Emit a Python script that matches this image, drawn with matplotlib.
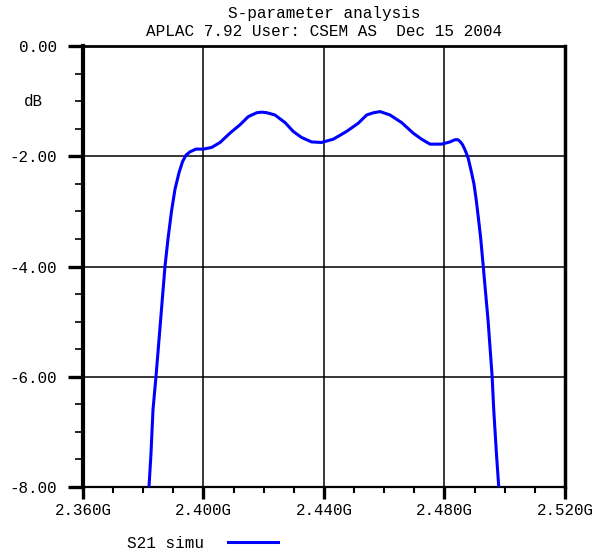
import matplotlib.pyplot as plt
from matplotlib.ticker import MultipleLocator, FixedLocator

# S21 simulation, frequency in GHz, level in dB
freq = [2.38191, 2.38257, 2.38324, 2.38423, 2.38573, 2.38722, 2.38822, 2.38938,
        2.39054, 2.39187, 2.39303, 2.39419, 2.39552, 2.39751, 2.4000, 2.4027,
        2.4055, 2.4088, 2.4121, 2.4149, 2.4177, 2.4193, 2.4210, 2.4237, 2.4271,
        2.4298, 2.4326, 2.4359, 2.4392, 2.4431, 2.4475, 2.4514, 2.4542, 2.4565,
        2.4586, 2.4619, 2.4658, 2.4696, 2.4724, 2.4752, 2.4791, 2.4818, 2.4835,
        2.4845, 2.4853, 2.4860, 2.4867, 2.4873, 2.48790, 2.48880, 2.48979,
        2.49056, 2.49122, 2.49205, 2.49288, 2.49451, 2.49583, 2.49636, 2.49726,
        2.49802]
s21 = [-8.00, -7.40, -6.60, -6.00, -5.00, -4.00, -3.50, -3.00,
       -2.60, -2.30, -2.10, -1.98, -1.92, -1.87, -1.87, -1.84,
       -1.75, -1.58, -1.43, -1.28, -1.21, -1.20, -1.21, -1.25, -1.39,
       -1.55, -1.66, -1.74, -1.75, -1.69, -1.55, -1.40, -1.25, -1.21,
       -1.19, -1.25, -1.39, -1.58, -1.69, -1.78, -1.78, -1.74, -1.70,
       -1.70, -1.74, -1.79, -1.87, -1.95, -2.04, -2.25, -2.50,
       -2.80, -3.10, -3.50, -4.00, -5.00, -6.00, -6.60, -7.40,
       -8.00]

x_major = [2.36, 2.40, 2.44, 2.48, 2.52]
x_labels = ["2.360G", "2.400G", "2.440G", "2.480G", "2.520G"]
y_major = [0, -2, -4, -6, -8]
y_labels = ["0.00", "-2.00", "-4.00", "-6.00", "-8.00"]

font = "Liberation Mono"
plt.rcParams['font.family'] = font
fs = 11.4

fig = plt.figure(figsize=(5.94, 5.49), dpi=100, facecolor="white")
ax = fig.add_axes([0.1397, 0.1129, 0.8114, 0.8033])

ax.plot(freq, s21, color="#0000ff", linewidth=2.2, label="S21 simu", zorder=3)

ax.set_xlim(2.36, 2.52)
ax.set_ylim(-8, 0)

ax.xaxis.set_major_locator(FixedLocator(x_major))
ax.set_xticklabels(x_labels)
ax.xaxis.set_minor_locator(MultipleLocator(0.01))
ax.yaxis.set_major_locator(FixedLocator(y_major))
ax.set_yticklabels(y_labels)
ax.yaxis.set_minor_locator(MultipleLocator(0.5))

ax.tick_params(axis='both', which='both', direction='out', color='black',
               labelsize=fs)
ax.tick_params(axis='x', which='major', length=8.6, width=2.4, pad=3)
ax.tick_params(axis='x', which='minor', length=4, width=1.5)
ax.tick_params(axis='y', which='major', length=11, width=2.4, pad=7.5)
ax.tick_params(axis='y', which='minor', length=5.5, width=1.2)

ax.grid(True, which='major', color='black', linewidth=1.1)

ax.spines['left'].set_linewidth(3)
ax.spines['right'].set_linewidth(2.5)
ax.spines['top'].set_linewidth(2)
ax.spines['bottom'].set_linewidth(1.6)

# unit label sits at the -1 dB tick
ax.text(-0.083, 7 / 8, "dB", transform=ax.transAxes, va='center', ha='right',
        fontsize=fs)

fig.text(0.5455, 0.959, "S-parameter analysis\nAPLAC 7.92 User: CSEM AS  Dec 15 2004",
         ha='center', va='center', fontsize=11.5, linespacing=1.28)

ax.legend(loc='center', bbox_to_anchor=(0.2475, -0.127), frameon=False,
          markerfirst=False, handlelength=3.13, handletextpad=1.5,
          borderpad=0, fontsize=11.5)

fig.savefig("out.png", dpi=100, facecolor="white")
